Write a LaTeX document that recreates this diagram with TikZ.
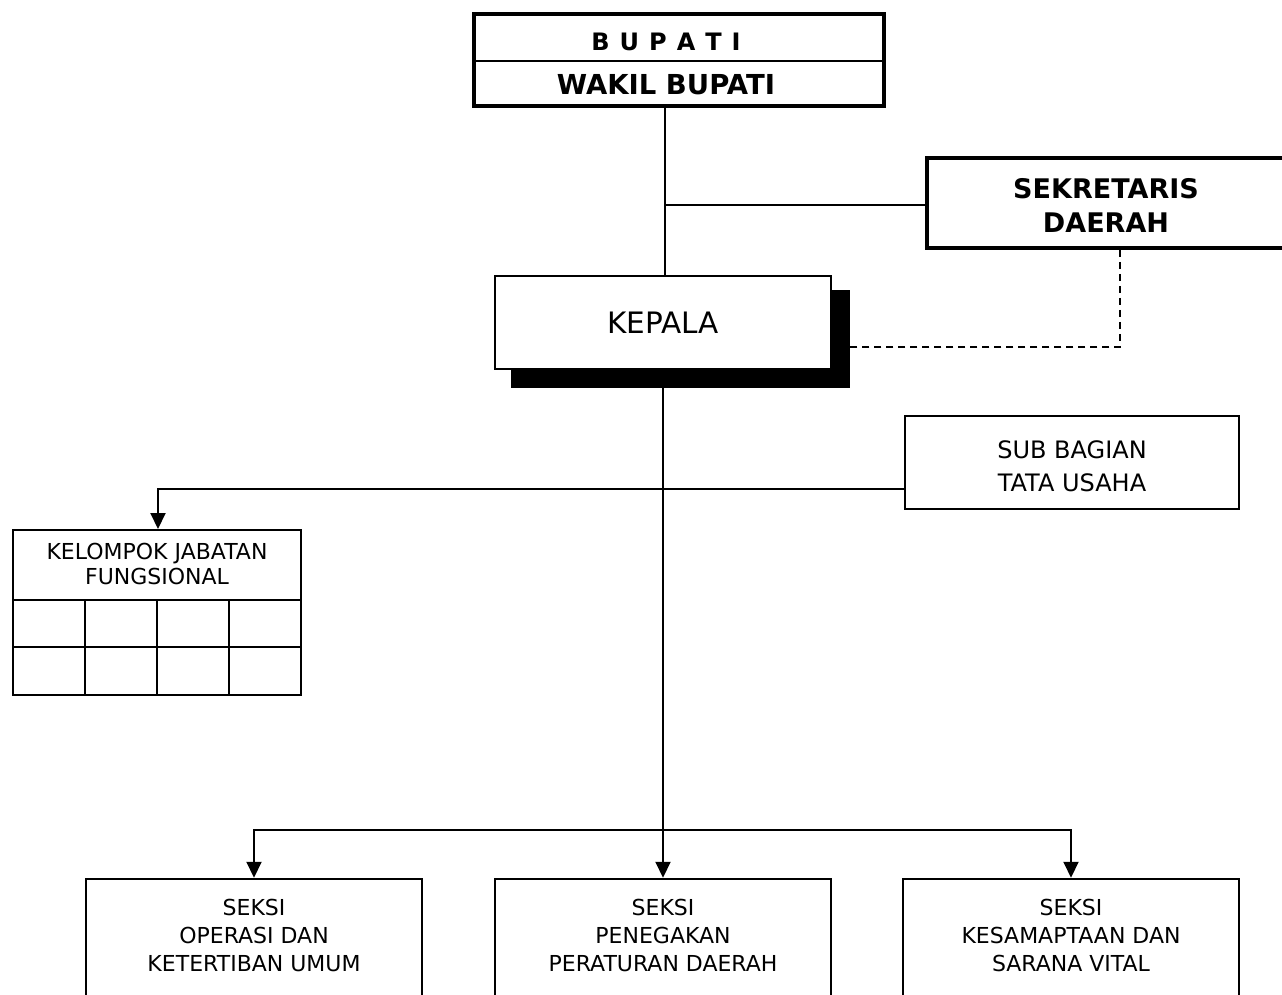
\documentclass[tikz,border=0pt]{standalone}
\usepackage{fontspec}
\setmainfont{DejaVu Sans}
\usetikzlibrary{arrows.meta,calc}
\begin{document}
\begin{tikzpicture}[x=1pt,y=-1pt,
  box/.style={draw, line width=2pt, inner sep=0pt, fill=white},
  lbl/.style={inner sep=0pt, align=center, font=\fontsize{22}{28}\selectfont},
  conn/.style={line width=2pt},
  arr/.style={conn, -{Triangle[length=16pt,width=15pt]}}]
\useasboundingbox (0,0) rectangle (1282,994);
\clip (0,0) rectangle (1282,994);
% BUPATI
\node[box, line width=3.5pt, minimum width=410, minimum height=92] (bup) at (679,60) {};
\coordinate (dv) at (0,61);
\draw[line width=2pt] (bup.west |- dv) -- (bup.east |- dv);
\node[inner sep=0pt, font=\bfseries\fontsize{24}{24}\selectfont] (tbup) at (666,42) {B\hspace{10pt}U\hspace{10pt}P\hspace{10pt}A\hspace{10pt}T\hspace{10pt}I};
\node[inner sep=0pt, font=\bfseries\fontsize{27.5}{27.5}\selectfont] (twak) at (666,85) {WAKIL BUPATI};
% SEKRETARIS
\node[box, line width=3.5pt, minimum width=376, minimum height=90] (sek) at (1115,203) {};
\node[lbl, font=\bfseries\fontsize{27}{34}\selectfont] (tsek) at (1106,205) {SEKRETARIS\\DAERAH};
% KEPALA
\node[fill=black, inner sep=0pt, minimum width=339, minimum height=98] (kepsh) at (680,339) {};
\node[box, line width=2.5pt, minimum width=336, minimum height=93, font=\fontsize{29.5}{29.5}\selectfont] (kep) at (663,322.5) {KEPALA};
% connectors top
\coordinate (j1) at (665,205);
\draw[conn] (bup.south -| j1) -- (kep.north -| j1);
\draw[conn] (j1) -- (sek.west |- j1);
\coordinate (d1) at (1120,347);
\draw[conn, dash pattern=on 7pt off 5pt] (sek.south -| d1) -- (d1) -- (kepsh.east |- d1);
% SUB BAGIAN
\node[box, minimum width=334, minimum height=93] (sub) at (1072,462.5) {};
\node[lbl, font=\fontsize{24}{33}\selectfont] (tsub) at (1072,466) {SUB BAGIAN\\TATA USAHA};
% KELOMPOK
\node[box, minimum width=288, minimum height=165] (kel) at (157,612.5) {};
\node[lbl, font=\fontsize{22}{25}\selectfont] (tkel) at (157,564) {KELOMPOK JABATAN\\FUNGSIONAL};
\draw[line width=2pt] (13,600) -- (301,600) (13,647) -- (301,647)
  (85,600) -- (85,695) (157,600) -- (157,695) (229,600) -- (229,695);
\coordinate (h1) at (158,489);
\draw[arr] (sub.west |- h1) -- (h1) -- (kel.north -| h1);
% SEKSI
\node[box, line width=2.5pt, minimum width=336, minimum height=140] (s1) at (254,949) {};
\node[box, line width=2.5pt, minimum width=336, minimum height=140] (s2) at (663,949) {};
\node[box, line width=2.5pt, minimum width=336, minimum height=140] (s3) at (1071,949) {};
\node[lbl] (t1) at (254,935) {SEKSI\\OPERASI DAN\\KETERTIBAN UMUM};
\node[lbl] (t2) at (663,935) {SEKSI\\PENEGAKAN\\PERATURAN DAERAH};
\node[lbl] (t3) at (1071,935) {SEKSI\\KESAMAPTAAN DAN\\SARANA VITAL};
\coordinate (j2) at (663,830);
\draw[arr] (kepsh.south -| s2.north) -- (s2.north);
\draw[arr] (j2) -| (s1.north);
\draw[arr] (j2) -| (s3.north);
\end{tikzpicture}
\end{document}
